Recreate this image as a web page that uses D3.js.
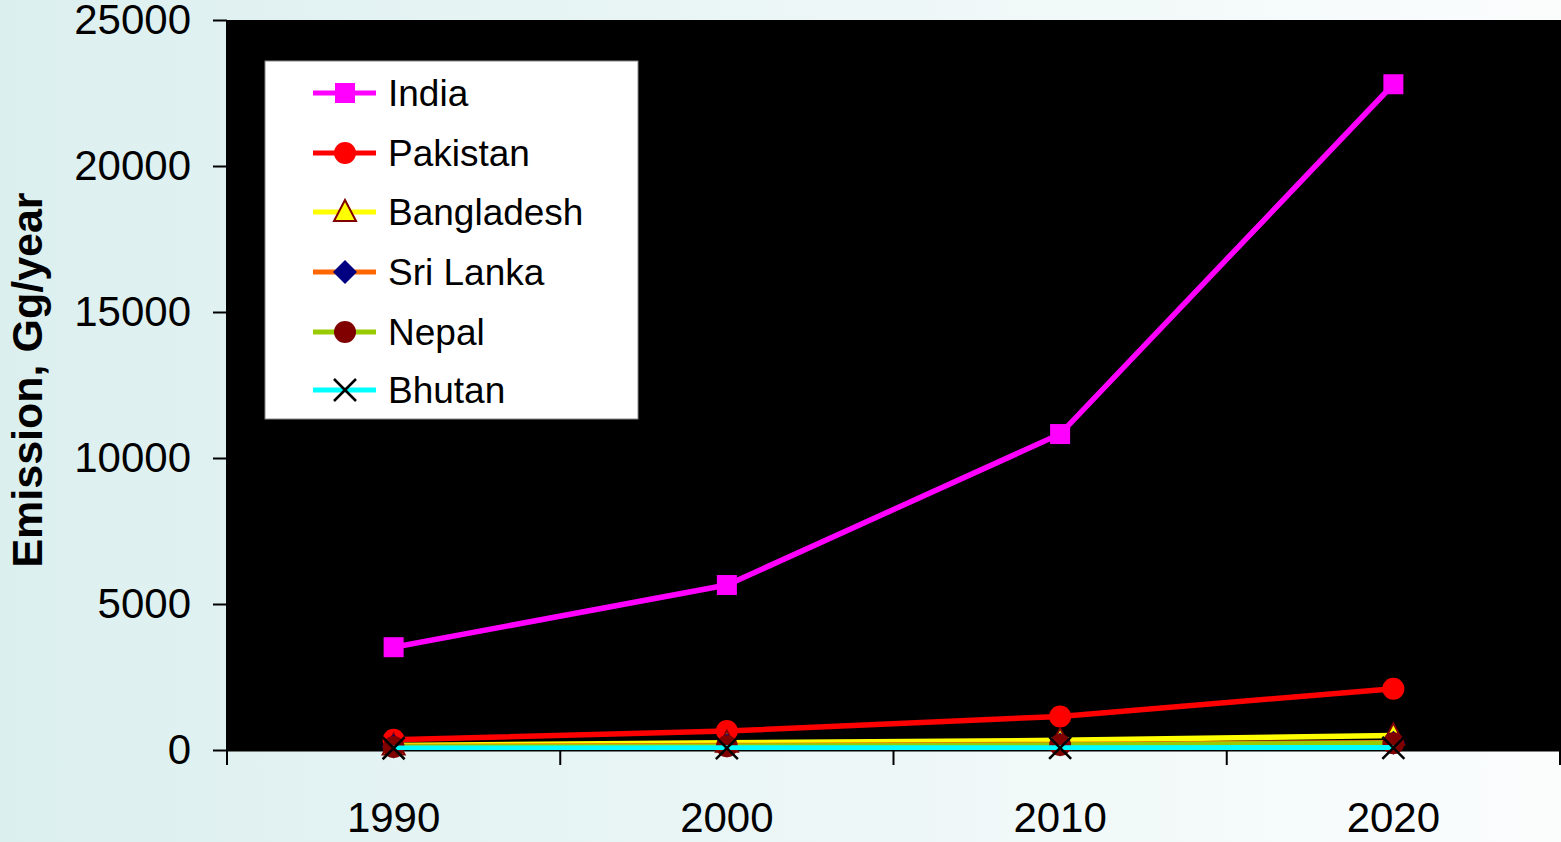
<!DOCTYPE html>
<html>
<head>
<meta charset="utf-8">
<script src="https://cdn.jsdelivr.net/npm/d3@7"></script>
<style>
  body { margin: 0; overflow: hidden; }
  text { font-family: "Liberation Sans", Arial, sans-serif; }
</style>
</head>
<body>
<script>
// data
var years = ["1990", "2000", "2010", "2020"];
var india = [3520, 5650, 10820, 22800];
var pakistan = [350, 650, 1150, 2100];
var bangladesh = [150, 250, 330, 500];
var sriLanka = [120, 150, 190, 250];
var nepal = [100, 130, 170, 230];
var bhutan = [60, 65, 70, 75];
var yTicks = [0, 5000, 10000, 15000, 20000, 25000];

var series = [
  { name: "India", values: india, color: "#ff00ff", marker: "square" },
  { name: "Pakistan", values: pakistan, color: "#ff0000", marker: "circle" },
  { name: "Bangladesh", values: bangladesh, color: "#ffff00", marker: "triangle" },
  { name: "Sri Lanka", values: sriLanka, color: "#ff6600", marker: "diamond" },
  { name: "Nepal", values: nepal, color: "#99cc00", marker: "dot" },
  { name: "Bhutan", values: bhutan, color: "#00ffff", marker: "cross" }
];

var w = 1561, h = 842;
var pLeft = 227, pRight = 1560, pTop = 20, pBottom = 750;

var svg = d3.select("body").append("svg")
  .attr("width", w)
  .attr("height", h);

var defs = svg.append("defs");
var grad = defs.append("linearGradient").attr("id", "bg")
  .attr("x1", "0%").attr("x2", "100%").attr("y1", "0%").attr("y2", "0%");
grad.append("stop").attr("offset", "0%").attr("stop-color", "#dcefef");
grad.append("stop").attr("offset", "100%").attr("stop-color", "#fbfdfd");
defs.append("clipPath").attr("id", "plotclip")
  .append("rect").attr("x", pLeft).attr("y", pTop).attr("width", w - pLeft).attr("height", pBottom - pTop);

svg.append("rect").attr("width", w).attr("height", h).attr("fill", "url(#bg)");

// plot area
svg.append("rect")
  .attr("x", pLeft).attr("y", pTop)
  .attr("width", w - pLeft).attr("height", pBottom - pTop)
  .attr("fill", "#000");

var x = d3.scaleBand().domain(years).range([pLeft, pRight]);
var y = d3.scaleLinear().domain([0, 25000]).range([pBottom, pTop]);

// y axis
var yAxis = svg.append("g")
  .attr("transform", "translate(" + pLeft + ",0)")
  .call(d3.axisLeft(y).tickValues(yTicks).tickSize(14).tickPadding(22).tickFormat(d3.format("d")));
yAxis.selectAll("text").attr("font-size", 42).attr("fill", "#000").style("font-family", "Liberation Sans, Arial");
yAxis.selectAll("line").attr("stroke", "#000").attr("stroke-width", 2);
yAxis.select(".domain").attr("stroke", "#000").attr("stroke-width", 2).attr("d", "M0," + (pBottom + 5) + "V" + pTop);

// x axis with ticks between categories
var xAxis = svg.append("g")
  .attr("transform", "translate(0," + pBottom + ")")
  .call(d3.axisBottom(x).tickSize(0).tickPadding(52));
xAxis.selectAll("text").attr("font-size", 42).attr("fill", "#000").style("font-family", "Liberation Sans, Arial");
xAxis.select(".domain").attr("stroke", "#000").attr("stroke-width", 2);
var edges = years.map(function(d) { return x(d); }).concat([pRight]);
xAxis.selectAll(".sep").data(edges).enter().append("line")
  .attr("class", "sep")
  .attr("x1", function(d) { return d; }).attr("x2", function(d) { return d; })
  .attr("y1", 0).attr("y2", 15)
  .attr("stroke", "#000").attr("stroke-width", 2);

function cx(i) { return x(years[i]) + x.bandwidth() / 2; }

function drawMarker(g, type, color) {
  if (type === "square") {
    g.append("rect").attr("x", -10).attr("y", -10).attr("width", 20).attr("height", 20).attr("fill", color);
  } else if (type === "circle") {
    g.append("circle").attr("r", 11).attr("fill", color);
  } else if (type === "triangle") {
    g.append("path").attr("d", "M0,-12L11,9L-11,9Z").attr("fill", "#ffff00").attr("stroke", "#800000").attr("stroke-width", 2);
  } else if (type === "diamond") {
    g.append("path").attr("d", "M0,-12L12,0L0,12L-12,0Z").attr("fill", "#000080");
  } else if (type === "dot") {
    g.append("circle").attr("r", 11).attr("fill", "#800000");
  } else if (type === "cross") {
    g.append("path").attr("d", "M-11,-11L11,11M-11,11L11,-11").attr("stroke", "#000").attr("stroke-width", 2.5);
  }
}

var line = d3.line()
  .x(function(d, i) { return cx(i); })
  .y(function(d) { return y(d); });

// each series: line then markers, later series on top
var plot = svg.append("g");
series.forEach(function(s) {
  plot.append("path")
    .datum(s.values)
    .attr("d", line)
    .attr("clip-path", "url(#plotclip)")
    .attr("fill", "none")
    .attr("stroke", s.color)
    .attr("stroke-width", 5.5);
  s.values.forEach(function(v, i) {
    var g = plot.append("g").attr("transform", "translate(" + cx(i) + "," + y(v) + ")");
    drawMarker(g, s.marker, s.color);
  });
});

// legend
var legend = svg.append("g").attr("transform", "translate(265,61)");
legend.append("rect").attr("width", 373).attr("height", 358).attr("fill", "#fff").attr("stroke", "#888").attr("stroke-width", 1);
var rowY = [32, 92, 151, 211, 271, 329];
series.forEach(function(s, i) {
  var row = legend.append("g").attr("transform", "translate(0," + rowY[i] + ")");
  row.append("line").attr("x1", 48).attr("x2", 111).attr("y1", 0).attr("y2", 0)
    .attr("stroke", s.color).attr("stroke-width", 5);
  var m = row.append("g").attr("transform", "translate(80,0)");
  drawMarker(m, s.marker, s.color);
  row.append("text").attr("x", 123).attr("y", 13).attr("font-size", 37).attr("fill", "#000").text(s.name);
});

// y title
svg.append("text")
  .attr("transform", "translate(42,380) rotate(-90)")
  .attr("text-anchor", "middle")
  .attr("font-size", 43)
  .attr("font-weight", "bold")
  .attr("fill", "#000")
  .text("Emission, Gg/year");
</script>
</body>
</html>
